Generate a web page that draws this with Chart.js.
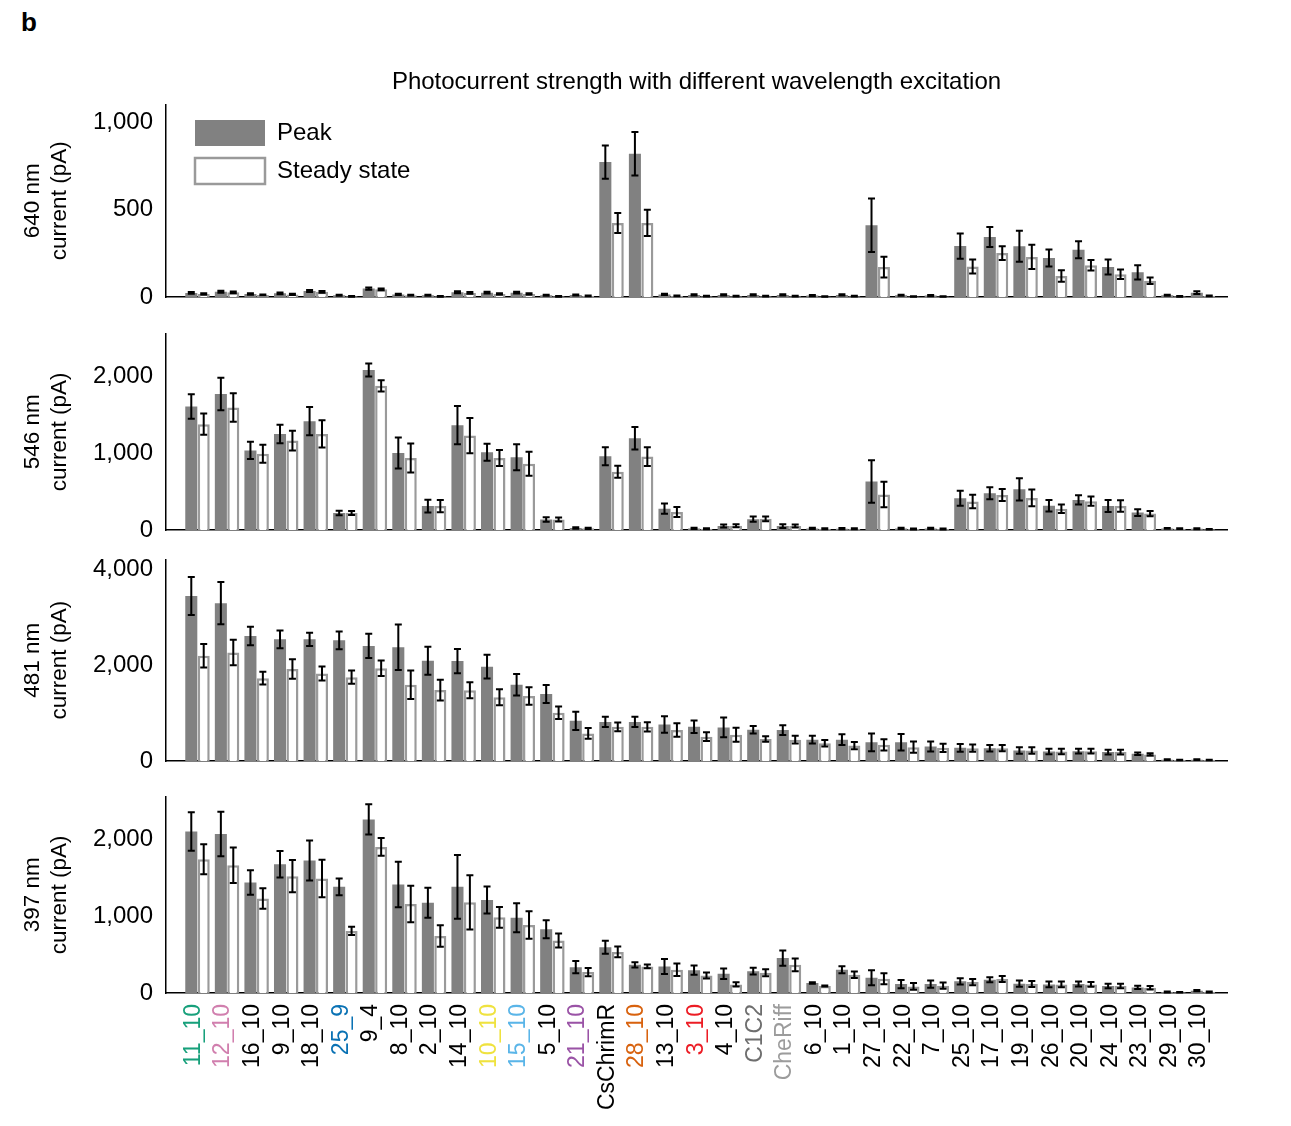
<!DOCTYPE html>
<html>
<head>
<meta charset="utf-8">
<script src="https://cdn.jsdelivr.net/npm/chart.js@4.4.1/dist/chart.umd.min.js"></script>
<style>
  html, body { margin: 0; padding: 0; background: #fff; }
  body { width: 1291px; height: 1126px; position: relative; overflow: hidden;
         font-family: 'Liberation Sans', Arial, Helvetica, sans-serif; }
  .panel { position: absolute; left: 0; width: 1291px; }
  #tag { position: absolute; left: 21px; top: 7px; font-weight: bold; font-size: 26px; color: #000; }
</style>
</head>
<body>
<div id="tag">b</div>
<div class="panel" style="top:40px;height:275px"><canvas id="c640"></canvas></div>
<div class="panel" style="top:320px;height:228px"><canvas id="c546"></canvas></div>
<div class="panel" style="top:545px;height:234px"><canvas id="c481"></canvas></div>
<div class="panel" style="top:783px;height:343px"><canvas id="c397"></canvas></div>
<script>
// ---------------- DATA ----------------
const categories = ['11_10','12_10','16_10','9_10','18_10','25_9','9_4','8_10','2_10','14_10',
  '10_10','15_10','5_10','21_10','CsChrimR','28_10','13_10','3_10','4_10','C1C2',
  'CheRiff','6_10','1_10','27_10','22_10','7_10','25_10','17_10','19_10','26_10',
  '20_10','24_10','23_10','29_10','30_10'];

const labelColors = ['#17a07b','#d17fae','#000','#000','#000','#0a72b4','#000','#000','#000','#000',
  '#efe23f','#5ab5e8','#000','#9a53a6','#000','#d8620e','#000','#ec1c24','#000','#6e6e6e',
  '#9c9c9c','#000','#000','#000','#000','#000','#000','#000','#000','#000',
  '#000','#000','#000','#000','#000'];

const seriesNames = ['Peak', 'Steady state'];
const chartTitle = 'Photocurrent strength with different wavelength excitation';

// 640 nm
const peak640    = [23, 30, 17, 21, 34, 10, 48, 15, 10, 27, 25, 25, 10, 11, 771, 819, 15, 12, 12, 12, 12, 8, 12, 410, 10, 8, 291, 343, 290, 223, 270, 171, 141, 10, 25];
const peak640Err = [5, 6, 4, 5, 6, 3, 6, 4, 3, 6, 5, 5, 3, 3, 95, 124, 4, 4, 4, 4, 4, 3, 4, 153, 3, 3, 72, 57, 88, 48, 48, 43, 41, 3, 8];
const ss640      = [17, 27, 11, 15, 30, 4, 44, 10, 4, 23, 17, 17, 4, 6, 423, 423, 6, 5, 5, 5, 5, 3, 5, 171, 3, 3, 175, 251, 229, 120, 181, 130, 93, 4, 6];
const ss640Err   = [4, 5, 3, 4, 5, 2, 5, 3, 2, 5, 4, 4, 2, 2, 57, 75, 2, 2, 2, 2, 2, 2, 2, 59, 2, 2, 40, 39, 69, 33, 30, 27, 19, 2, 2];

// 546 nm
const peak546    = [1604, 1766, 1034, 1247, 1413, 221, 2077, 1000, 311, 1362, 1009, 945, 136, 26, 957, 1191, 277, 21, 51, 140, 51, 21, 17, 630, 21, 21, 413, 477, 528, 315, 391, 311, 226, 21, 17];
const peak546Err = [160, 210, 112, 119, 183, 28, 85, 202, 83, 249, 111, 170, 28, 10, 117, 147, 66, 8, 20, 34, 25, 8, 8, 275, 8, 8, 98, 77, 145, 75, 60, 78, 43, 6, 6];
const ss546      = [1374, 1591, 991, 1162, 1247, 221, 1872, 936, 311, 1226, 936, 860, 136, 22, 757, 953, 234, 17, 55, 145, 51, 17, 17, 460, 13, 13, 370, 455, 417, 277, 374, 311, 213, 17, 9];
const ss546Err   = [138, 185, 117, 128, 177, 25, 72, 189, 80, 230, 104, 155, 25, 8, 79, 123, 66, 6, 20, 30, 20, 6, 6, 166, 6, 6, 87, 77, 108, 55, 60, 75, 34, 5, 4];

// 481 nm
const peak481    = [3438, 3288, 2603, 2534, 2534, 2514, 2397, 2370, 2089, 2082, 1966, 1589, 1397, 836, 815, 815, 760, 712, 699, 651, 644, 445, 445, 390, 390, 301, 274, 267, 219, 199, 205, 185, 151, 27, 27];
const peak481Err = [395, 440, 192, 185, 137, 185, 253, 473, 291, 253, 247, 223, 188, 192, 106, 106, 171, 130, 205, 79, 103, 82, 113, 185, 171, 103, 79, 68, 68, 58, 48, 51, 27, 8, 8];
const ss481      = [2192, 2260, 1726, 1918, 1822, 1747, 1932, 1589, 1479, 1473, 1329, 1356, 1007, 575, 712, 712, 644, 507, 548, 459, 445, 370, 322, 336, 288, 274, 267, 267, 219, 199, 205, 185, 137, 20, 20];
const ss481Err   = [243, 267, 133, 202, 147, 137, 160, 298, 216, 168, 168, 182, 130, 110, 92, 96, 140, 92, 147, 58, 79, 68, 75, 116, 116, 86, 75, 65, 68, 58, 51, 51, 25, 6, 6];

// 397 nm
const peak397    = [2099, 2065, 1435, 1672, 1720, 1379, 2254, 1409, 1172, 1379, 1207, 978, 828, 336, 595, 366, 345, 297, 250, 284, 453, 129, 302, 198, 116, 116, 151, 172, 121, 112, 116, 91, 73, 13, 30];
const peak397Err = [250, 290, 160, 172, 260, 108, 196, 295, 194, 414, 175, 188, 118, 78, 84, 34, 97, 60, 69, 45, 100, 10, 47, 97, 54, 47, 41, 32, 41, 37, 32, 28, 22, 5, 8];
const ss397      = [1737, 1659, 1228, 1517, 1487, 806, 1897, 1155, 741, 1177, 983, 884, 681, 272, 534, 345, 302, 228, 112, 263, 366, 91, 237, 185, 86, 95, 142, 181, 116, 112, 112, 91, 69, 9, 13];
const ss397Err   = [194, 231, 134, 209, 243, 53, 116, 237, 140, 351, 134, 179, 91, 53, 71, 24, 80, 39, 28, 47, 82, 8, 43, 71, 45, 41, 41, 39, 39, 37, 32, 28, 22, 4, 5];

// y tick labels per panel
const ticks640 = [0, 500, 1000];
const ticks546 = [0, 1000, 2000];
const ticks481 = [0, 2000, 4000];
const ticks397 = [0, 1000, 2000];

const title640 = ['640 nm', 'current (pA)'];
const title546 = ['546 nm', 'current (pA)'];
const title481 = ['481 nm', 'current (pA)'];
const title397 = ['397 nm', 'current (pA)'];

// ---------------- STYLE ----------------
Chart.defaults.font.family = "'Liberation Sans', Arial, Helvetica, sans-serif";
Chart.defaults.color = '#000';

const PEAK_FILL = '#818181';
const SS_EDGE = '#9a9a9a';

const errorBars = {
  id: 'errorBars',
  afterDatasetsDraw(chart) {
    const ctx = chart.ctx;
    chart.data.datasets.forEach((ds, di) => {
      const meta = chart.getDatasetMeta(di);
      const ys = chart.scales[meta.yAxisID];
      ctx.save();
      ctx.strokeStyle = '#000';
      ctx.lineWidth = 2;
      meta.data.forEach((bar, j) => {
        const v = ds.data[j].y, e = ds.errors[j];
        const top = ys.getPixelForValue(v + e);
        const bot = ys.getPixelForValue(Math.max(0, v - e));
        ctx.beginPath();
        ctx.moveTo(bar.x, top); ctx.lineTo(bar.x, bot);
        ctx.moveTo(bar.x - 3.5, top); ctx.lineTo(bar.x + 3.5, top);
        ctx.moveTo(bar.x - 3.5, bot); ctx.lineTo(bar.x + 3.5, bot);
        ctx.stroke();
      });
      ctx.restore();
    });
  }
};

// place the legend inside the plot area, near its top-left corner
const legendNudge = {
  id: 'legendNudge',
  afterLayout(chart) {
    const L = chart.legend;
    if (L && chart.options.plugins.legend.display) {
      const a = chart.chartArea;
      L.left = a.left + 17;
      L.top = a.top + 3.5;
      L.right = a.right;
      L.bottom = a.bottom;
    }
  }
};

function makePanel(id, cfg) {
  const toPts = arr => arr.map((v, i) => ({ x: i, y: v }));
  return new Chart(document.getElementById(id), {
    type: 'bar',
    data: {
      datasets: [
        { label: seriesNames[0], data: toPts(cfg.peak), errors: cfg.peakErr,
          backgroundColor: PEAK_FILL, borderWidth: 0 },
        { label: seriesNames[1], data: toPts(cfg.ss), errors: cfg.ssErr,
          backgroundColor: '#ffffff', borderColor: SS_EDGE, borderWidth: 2.5 }
      ]
    },
    options: {
      responsive: true,
      maintainAspectRatio: false,
      animation: false,
      events: [],
      datasets: { bar: { categoryPercentage: 0.84, barPercentage: 0.97 } },
      layout: { padding: { left: 0, right: 64, top: cfg.padTop, bottom: cfg.padBottom } },
      plugins: {
        tooltip: { enabled: false },
        legend: {
          display: !!cfg.legend,
          position: 'chartArea',
          align: 'start',
          labels: { boxWidth: 70, boxHeight: 26, padding: 12, color: '#000', font: { size: 24 } }
        },
        title: {
          display: !!cfg.title,
          text: chartTitle,
          fullSize: false,
          color: '#000',
          font: { size: 24, weight: 'normal' },
          padding: { top: 28, bottom: 7.7 }
        }
      },
      scales: {
        x: {
          type: 'linear',
          offset: false,
          min: -1.065,
          max: 34.81,
          grid: { display: false, drawTicks: false },
          border: { display: true, color: '#000', width: 1.5 },
          afterBuildTicks: s => { s.ticks = categories.map((c, i) => ({ value: i })); },
          ticks: {
            display: !!cfg.xLabels,
            autoSkip: false,
            minRotation: 90,
            maxRotation: 90,
            padding: 11,
            labelOffset: -4,
            font: { size: 23 },
            color: c => labelColors[c.index],
            callback: (v, i) => categories[i]
          },
          afterFit: s => { s.height = cfg.xHeight; s.paddingLeft = 0; s.paddingRight = 0; }
        },
        y: {
          min: 0,
          max: cfg.yMax,
          stacked: false,
          grid: { display: false, drawTicks: false },
          border: { display: true, color: '#000', width: 1.5 },
          afterBuildTicks: s => { s.ticks = cfg.yTicks.map(v => ({ value: v })); },
          ticks: { padding: 13, color: '#000', font: { size: 24 },
                   callback: v => v.toLocaleString('en-US') },
          title: { display: true, text: cfg.yTitle, color: '#000', font: { size: 22.5 },
                   padding: { top: 19.5, bottom: 0 } },
          afterFit: s => { s.width = 166; s.paddingTop = 0; s.paddingBottom = 0; }
        }
      }
    },
    plugins: [errorBars, legendNudge]
  });
}

makePanel('c640', { peak: peak640, peakErr: peak640Err, ss: ss640, ssErr: ss640Err,
  yMax: 1100, yTicks: ticks640, yTitle: title640, title: true, legend: true,
  padTop: 0, padBottom: 18, xHeight: 0 });
makePanel('c546', { peak: peak546, peakErr: peak546Err, ss: ss546, ssErr: ss546Err,
  yMax: 2550, yTicks: ticks546, yTitle: title546,
  padTop: 13.65, padBottom: 18, xHeight: 0 });
makePanel('c481', { peak: peak481, peakErr: peak481Err, ss: ss481, ssErr: ss481Err,
  yMax: 4200, yTicks: ticks481, yTitle: title481,
  padTop: 14.4, padBottom: 18, xHeight: 0 });
makePanel('c397', { peak: peak397, peakErr: peak397Err, ss: ss397, ssErr: ss397Err,
  yMax: 2550, yTicks: ticks397, yTitle: title397, xLabels: true,
  padTop: 13.65, padBottom: 0, xHeight: 133 });
</script>
</body>
</html>
